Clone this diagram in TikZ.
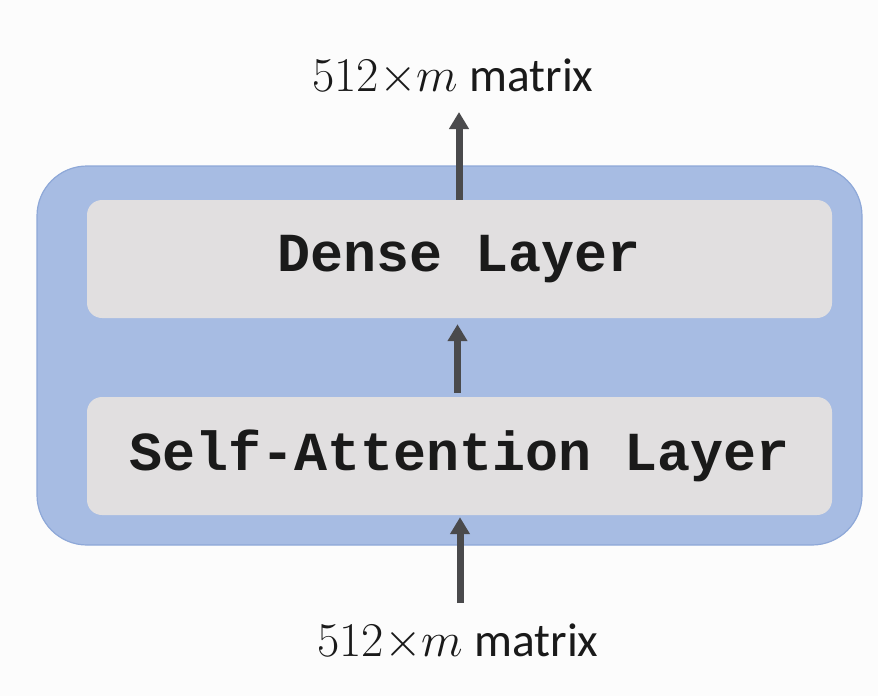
\RequirePackage{fix-cm}
\documentclass[tikz,border=0pt]{standalone}
\usepackage{fontspec}
\setmainfont{Carlito}
\newfontfamily\codefont{Liberation Mono}
\usetikzlibrary{arrows.meta}
\definecolor{bgc}{HTML}{FCFCFC}
\definecolor{outerfill}{HTML}{A7BCE3}
\definecolor{outerline}{HTML}{8EA8D8}
\definecolor{innerfill}{HTML}{E1DFE0}
\definecolor{arrowc}{HTML}{4A4A4C}
\definecolor{textc}{HTML}{1A1A1A}
\tikzset{
  outerbox/.style={draw=outerline, line width=1.2pt, fill=outerfill, rounded corners=50pt,
    minimum width=825pt, minimum height=379pt, inner sep=0pt},
  layerbox/.style={fill=innerfill, rounded corners=15pt, minimum width=745pt,
    minimum height=118pt, inner sep=0pt, text=textc,
    font=\codefont\bfseries\fontsize{55}{60}\selectfont},
  dimlabel/.style={inner sep=0pt, text=textc, font=\fontsize{47.5}{50}\selectfont},
  flow/.style={draw=arrowc, line width=7pt, -{Triangle[length=17pt,width=19pt]}}
}
\newcommand{\dimtext}{{\fontsize{48.5}{50}\selectfont$512{\times}m$} matrix}
\begin{document}
\begin{tikzpicture}[x=1pt,y=-1pt]
  \fill[bgc] (0,0) rectangle (878,696);
  \useasboundingbox (0,0) rectangle (878,696);
  \node[outerbox] (outer) at (449.5,355.5) {};
  \node[layerbox] (dense) at (459.5,259) {\raisebox{-4pt}{Dense Layer}};
  \node[layerbox] (attn) at (459.5,456) {\raisebox{-4pt}{Self-Attention Layer}};
  \node[dimlabel] (top) at (453,77) {\dimtext};
  \node[dimlabel] (bottom) at (458,642) {\dimtext};
  \coordinate (topend) at (459,112);
  \coordinate (botstart) at (460,603);
  \draw[flow] (dense.north -| topend) -- (topend);
  \draw[flow] ([xshift=-2pt,yshift=4pt]attn.north) -- ([xshift=-2pt,yshift=-6pt]dense.south);
  \draw[flow] (botstart) -- ([yshift=-2pt]attn.south -| botstart);
\end{tikzpicture}
\end{document}
